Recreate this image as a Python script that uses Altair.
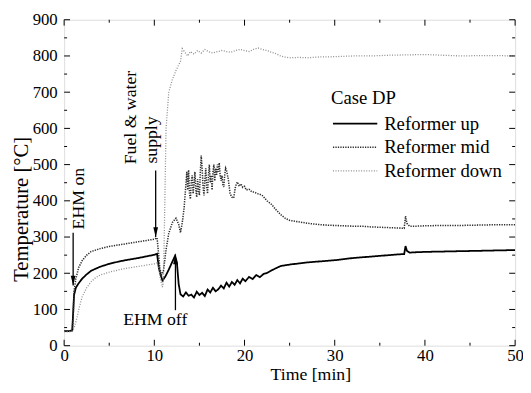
import altair as alt
import pandas as pd

FONT = "Liberation Serif"

# ---------------- data ----------------
series_names = ["Reformer up", "Reformer mid", "Reformer down"]
series_colors = ["#000000", "#2e2e2e", "#8c8c8c"]
series_dash = [[1, 0], [1.3, 1.2], [1, 1.6]]
series_width = [1.8, 1.3, 1.2]

up_t = [0, 0.5, 0.9, 1.0, 1.1, 1.3, 1.6, 2.0, 2.5, 3.0,
        4, 5, 6, 7, 8, 9, 10, 10.3, 10.5, 10.7, 10.9, 11.2, 11.6, 12.0, 12.3, 12.5, 12.7, 12.9,
        13.2, 13.5, 13.8, 14.1, 14.4, 14.7, 15.0, 15.3, 15.6, 15.9,
        16.2, 16.5, 16.8, 17.1, 17.4, 17.7, 18.0, 18.3, 18.6, 18.9,
        19.2, 19.5, 19.8, 20.1, 20.5, 20.9, 21.3, 21.7, 22.1, 22.5,
        23.0, 23.5, 24.0, 24.5, 25, 26, 27, 28, 29, 30,
        31, 32, 33, 34, 35, 36, 37, 37.7, 37.85, 38.0,
        38.3, 39, 40, 42, 44, 46, 48, 50]
up_v = [40, 40, 42, 90, 140, 160, 172, 185, 197, 207,
        218, 226, 232, 237, 241, 246, 251, 254, 215, 195, 180, 190, 210, 232, 248, 230, 170, 142,
        136, 147, 138, 141, 133, 149, 140, 146, 137, 155,
        147, 160, 150, 156, 166, 158, 174, 163, 176, 168,
        181, 172, 185, 178, 190, 184, 195, 189, 198, 201,
        208, 214, 220, 222, 224, 227, 230, 232, 234, 236,
        239, 242, 244, 246, 248, 250, 252, 253, 275, 262,
        257, 258, 259, 260, 261, 262, 263, 264]

mid_t = [0, 0.5, 0.9, 1.0, 1.1, 1.3, 1.6, 2.0, 2.5, 3.0,
         4, 5, 6, 7, 8, 9, 10, 10.3, 10.45, 10.6,
         10.8, 11.0, 11.3, 11.6, 12.0, 12.4, 12.7, 12.9, 13.1, 13.3,
         13.5, 13.6, 13.7, 13.8, 13.9, 14.0, 14.1, 14.2, 14.3, 14.4,
         14.5, 14.6, 14.7, 14.8, 14.9, 15.0, 15.1, 15.2, 15.3, 15.4,
         15.5, 15.6, 15.7, 15.8, 15.9, 16.0, 16.1, 16.2, 16.3, 16.4,
         16.5, 16.6, 16.7, 16.8, 16.9, 17.0, 17.1, 17.2, 17.3, 17.4,
         17.5, 17.6, 17.7, 17.8, 17.9, 18.0, 18.2, 18.4, 18.6, 18.8,
         19.0, 19.2, 19.4, 19.6, 19.8, 20.0, 20.2, 20.5, 20.8, 21.1,
         21.4, 21.7, 22.0, 22.5, 23.0, 23.5, 24.0, 24.5, 25, 26,
         27, 28, 29, 30, 31, 32, 33, 34, 35, 36,
         37, 37.7, 37.85, 38.0, 38.3, 39, 40, 42, 44, 46,
         48, 50]
mid_v = [40, 40, 42, 80, 150, 185, 215, 235, 250, 260,
         268, 274, 278, 282, 286, 290, 294, 298, 260, 215,
         195, 205, 265, 310, 340, 352, 335, 312, 340, 380,
         445, 480, 430, 485, 420, 405, 455, 470, 420, 445,
         480, 430, 410, 460, 430, 415, 480, 525, 490, 440,
         415, 455, 490, 440, 420, 470, 500, 450, 470, 430,
         480, 500, 455, 490, 470, 500, 480, 505, 470, 455,
         470, 445, 438, 470, 490, 484, 460, 420, 410, 408,
         440, 452, 440, 447, 437, 440, 430, 432, 425, 424,
         420, 418, 414, 400, 390, 375, 362, 352, 346, 342,
         338, 335, 333, 332, 331, 330, 330, 328, 327, 326,
         325, 324, 358, 338, 330, 330, 331, 332, 332, 333,
         334, 334]

down_t = [0, 0.5, 0.9, 1.1, 1.4, 1.7, 2.0, 2.5, 3.0, 3.5,
          4, 5, 6, 7, 8, 9, 10, 10.3, 10.5, 10.7,
          10.9, 11.0, 11.1, 11.2, 11.3, 11.6, 12.0, 12.4, 12.9, 13.1,
          13.4, 13.7, 14.0, 14.4, 14.8, 15.2, 15.6, 16.0, 16.5, 17.0,
          17.5, 18.0, 18.5, 19.0, 19.5, 20, 20.5, 21, 21.5, 22,
          22.5, 23, 23.5, 24, 24.5, 25, 26, 27, 28, 30,
          32, 34, 36, 38, 40, 42, 44, 46, 48, 50]
down_v = [38, 38, 40, 48, 75, 108, 135, 160, 177, 188,
          195, 203, 209, 214, 218, 222, 226, 229, 215, 180,
          162, 175, 300, 450, 600, 700, 735, 760, 785, 820,
          810, 800, 812, 805, 815, 808, 818, 812, 808, 812,
          815, 812, 810, 815, 818, 815, 812, 818, 822, 818,
          815, 810, 806, 800, 797, 795, 796, 795, 797, 798,
          800, 800, 802, 803, 804, 802, 800, 801, 801, 800]

x_major = [0, 10, 20, 30, 40, 50]
x_minor = [5, 15, 25, 35, 45]
y_major = [0, 100, 200, 300, 400, 500, 600, 700, 800, 900]
y_minor = [50, 150, 250, 350, 450, 550, 650, 750, 850]

ann_rot_text = ["EHM on", "Fuel & water", "supply"]
ann_rot_t = [1.64, 7.42, 9.77]
ann_rot_T = [406, 630, 568]
ann_hor_text = ["EHM off"]
ann_hor_t = [10.1]
ann_hor_T = [72]

arr_t = [1.0, 10.15, 12.34]
arr_from = [312, 484, 98]
arr_tip = [166, 300, 252]
arr_dir = ["down", "down", "up"]

# ---------------- chart ----------------
W, H = 458, 331

rows = []
for name, ts, vs in zip(series_names, [up_t, mid_t, down_t], [up_v, mid_v, down_v]):
    for t, v in zip(ts, vs):
        rows.append({"t": t, "T": v, "series": name})
df = pd.DataFrame(rows)

xs = alt.Scale(domain=[0, 50], nice=False, zero=False)
ys = alt.Scale(domain=[0, 900], nice=False, zero=False)

x_axis = alt.Axis(values=x_major, title="Time [min]", ticks=False, tickSize=0, domain=False,
                  grid=False, labelFont=FONT, labelFontSize=17, labelColor="black",
                  labelPadding=2, labelFlush=False, labelOverlap=False,
                  titleFont=FONT, titleFontSize=18, titleFontWeight="normal", titleColor="black",
                  titleX=250, titleY=29, titleAlign="center", titleBaseline="middle")
y_axis = alt.Axis(values=y_major, title="Temperature [°C]", ticks=False, tickSize=0, domain=False,
                  grid=False, labelFont=FONT, labelFontSize=17, labelColor="black",
                  labelPadding=7, labelFlush=False, labelOverlap=False,
                  titleFont=FONT, titleFontSize=21, titleFontWeight="normal", titleColor="black",
                  titleAngle=270, titleX=-43, titleY=192, titleAlign="center", titleBaseline="middle")


def X(field):
    return alt.X(field, scale=xs, axis=x_axis, title="Time [min]")


def Y(field):
    return alt.Y(field, scale=ys, axis=y_axis, title="Temperature [°C]")


leg = alt.Legend(title="Case DP", orient="none", legendX=271, legendY=71,
                 symbolType="M-1,0L5,0", symbolSize=225, symbolStrokeWidth=1.5,
                 labelOffset=35, labelFont=FONT, labelFontSize=19, labelColor="black",
                 titleFont=FONT, titleFontSize=19, titleFontWeight="normal", titleColor="black",
                 rowPadding=4, titlePadding=6, padding=0)

lines = alt.Chart(df).mark_line(clip=True).encode(
    x=X("t:Q"),
    y=Y("T:Q"),
    color=alt.Color("series:N", scale=alt.Scale(domain=series_names, range=series_colors), legend=leg),
    strokeDash=alt.StrokeDash("series:N", scale=alt.Scale(domain=series_names, range=series_dash), legend=leg),
    strokeWidth=alt.StrokeWidth("series:N", scale=alt.Scale(domain=series_names, range=series_width), legend=None),
)


def yticks(values, length):
    d = pd.DataFrame({"v": values})
    base = alt.Chart(d).mark_rule(color="black", strokeWidth=1)
    left = base.encode(y=Y("v:Q"), x=alt.value(0), x2=alt.value(length))
    right = base.encode(y=Y("v:Q"), x=alt.value(W), x2=alt.value(W - length))
    return [left, right]


def xticks(values, length):
    d = pd.DataFrame({"v": values})
    base = alt.Chart(d).mark_rule(color="black", strokeWidth=1)
    bottom = base.encode(x=X("v:Q"), y=alt.value(H), y2=alt.value(H - length))
    top = base.encode(x=X("v:Q"), y=alt.value(0), y2=alt.value(length))
    return [bottom, top]


tick_layers = yticks(y_major, 6) + yticks(y_minor, 3) + xticks(x_major, 6) + xticks(x_minor, 3)

rot_df = pd.DataFrame({"t": ann_rot_t, "T": ann_rot_T, "label": ann_rot_text})
rot_text = alt.Chart(rot_df).mark_text(angle=270, align="center", baseline="middle",
                                       font=FONT, fontSize=18, color="black").encode(
    x=X("t:Q"), y=Y("T:Q"), text="label:N")

hor_df = pd.DataFrame({"t": ann_hor_t, "T": ann_hor_T, "label": ann_hor_text})
hor_text = alt.Chart(hor_df).mark_text(align="center", baseline="middle",
                                       font=FONT, fontSize=18, color="black").encode(
    x=X("t:Q"), y=Y("T:Q"), text="label:N")

arr_df = pd.DataFrame({"t": arr_t, "T0": arr_from, "T1": arr_tip, "dir": arr_dir})
shafts = alt.Chart(arr_df).mark_rule(color="black", strokeWidth=1.3).encode(
    x=X("t:Q"), y=Y("T0:Q"), y2="T1:Q")
heads = alt.Chart(arr_df).mark_point(filled=True, size=64, color="black", opacity=1).encode(
    x=X("t:Q"), y=Y("T1:Q"),
    shape=alt.Shape("dir:N", scale=alt.Scale(domain=["down", "up"],
                                             range=["M-0.6,-2.5L0.6,-2.5L0,0Z", "M-0.6,2.5L0.6,2.5L0,0Z"]),
                    legend=None))

chart = alt.layer(lines, *tick_layers, shafts, heads, rot_text, hor_text).properties(
    width=W, height=H,
    padding={"left": 57, "top": 9, "right": 8, "bottom": 37},
    autosize=alt.AutoSizeParams(type="none"),
).configure_view(stroke="black", strokeWidth=1.5).configure(background="white")

chart.save("out.html", embed_options={"renderer": "svg", "actions": False})
